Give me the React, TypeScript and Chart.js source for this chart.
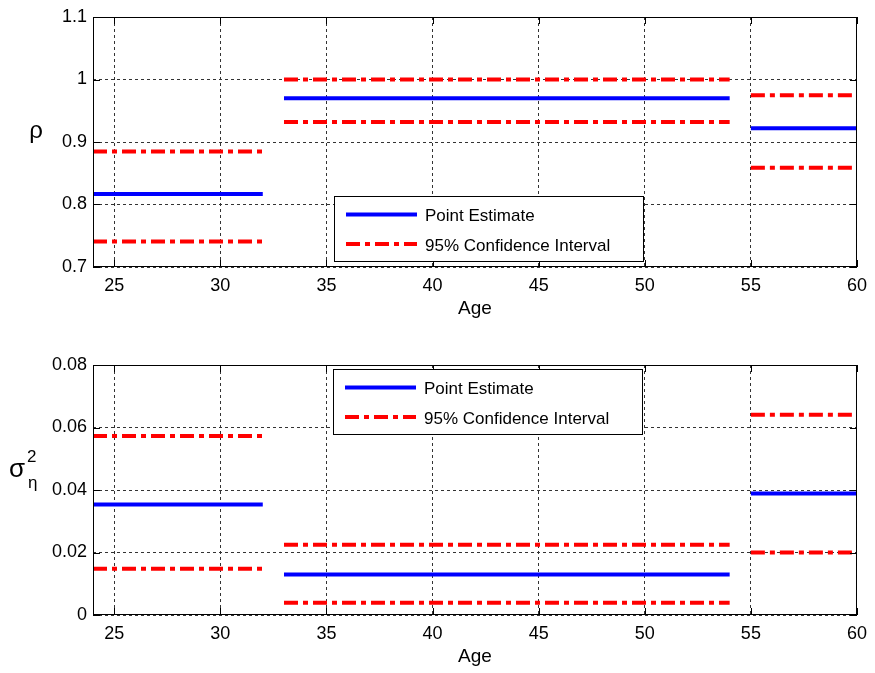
import React, { useEffect, useRef } from "react";
import { Chart, registerables } from "chart.js";

Chart.register(...registerables);

// ---- Data ----
const ageStart = [24, 33, 55];
const ageEnd = [32, 54, 60];

const rhoPoint = [0.817, 0.97, 0.922];
const rhoUpper = [0.885, 1.0, 0.975];
const rhoLower = [0.741, 0.932, 0.859];

const sigmaPoint = [0.0354, 0.013, 0.0389];
const sigmaUpper = [0.0573, 0.0225, 0.0641];
const sigmaLower = [0.0148, 0.0039, 0.02];

const xTicks = [25, 30, 35, 40, 45, 50, 55, 60];
const rhoTicks = [0.7, 0.8, 0.9, 1.0, 1.1];
const sigmaTicks = [0, 0.02, 0.04, 0.06, 0.08];

const legendLabels = ["Point Estimate", "95% Confidence Interval"];
const xTitle = "Age";

// ---- Styles ----
const FONT = "'Liberation Sans', Arial, Helvetica, sans-serif";
const BLUE = "#0000ff";
const RED = "#ff0000";
const DASH = [14, 5, 5, 5];
const W = 875;

function segmentDatasets(point: number[], upper: number[], lower: number[]) {
  const ds: any[] = [];
  for (let i = 0; i < ageStart.length; i++) {
    const seg = (v: number) => [
      { x: ageStart[i], y: v },
      { x: ageEnd[i], y: v },
    ];
    ds.push({
      label: legendLabels[1],
      data: seg(upper[i]),
      borderColor: RED,
      borderWidth: 4,
      borderDash: DASH,
      borderCapStyle: "butt",
      pointRadius: 0,
      fill: false,
    });
    ds.push({
      label: legendLabels[1],
      data: seg(lower[i]),
      borderColor: RED,
      borderWidth: 4,
      borderDash: DASH,
      borderCapStyle: "butt",
      pointRadius: 0,
      fill: false,
    });
    ds.push({
      label: legendLabels[0],
      data: seg(point[i]),
      borderColor: BLUE,
      borderWidth: 4,
      borderCapStyle: "butt",
      pointRadius: 0,
      fill: false,
    });
  }
  return ds;
}

type Cfg = {
  padTop: number;
  xHeight: number;
  yMin: number;
  yMax: number;
  yTicks: number[];
  fmt: (v: number) => string;
  legendPos: { dx: number; dy: number };
  drawYLabel: (ctx: CanvasRenderingContext2D) => void;
  point: number[];
  upper: number[];
  lower: number[];
};

function makeChart(canvas: HTMLCanvasElement, cfg: Cfg) {
  const decor = {
    id: "matlabDecor",
    afterDatasetsDraw(chart: any) {
      const ctx: CanvasRenderingContext2D = chart.ctx;
      const a = chart.chartArea;
      const xs = chart.scales.x;
      const ys = chart.scales.y;
      ctx.save();
      // frame
      ctx.strokeStyle = "#000";
      ctx.lineWidth = 1;
      ctx.setLineDash([]);
      ctx.strokeRect(a.left + 0.5, a.top + 0.5, a.right - a.left - 1, a.bottom - a.top - 1);
      // inward ticks
      const tl = 7;
      ctx.beginPath();
      xTicks.forEach((t) => {
        const px = Math.round(xs.getPixelForValue(t)) + 0.5;
        ctx.moveTo(px, a.bottom);
        ctx.lineTo(px, a.bottom - tl);
        ctx.moveTo(px, a.top);
        ctx.lineTo(px, a.top + tl);
      });
      cfg.yTicks.forEach((t) => {
        const py = Math.round(ys.getPixelForValue(t)) + 0.5;
        ctx.moveTo(a.left, py);
        ctx.lineTo(a.left + tl, py);
        ctx.moveTo(a.right, py);
        ctx.lineTo(a.right - tl, py);
      });
      ctx.stroke();

      // legend
      const bx = a.left + cfg.legendPos.dx;
      const by = a.top + cfg.legendPos.dy;
      const bw = 310;
      const bh = 66;
      ctx.fillStyle = "#fff";
      ctx.fillRect(bx, by, bw, bh);
      ctx.strokeStyle = "#000";
      ctx.lineWidth = 1;
      ctx.strokeRect(bx + 0.5, by + 0.5, bw - 1, bh - 1);
      ctx.lineCap = "butt";
      ctx.lineWidth = 4;
      ctx.strokeStyle = BLUE;
      ctx.beginPath();
      ctx.moveTo(bx + 12, by + 18.5);
      ctx.lineTo(bx + 83, by + 18.5);
      ctx.stroke();
      ctx.strokeStyle = RED;
      ctx.setLineDash(DASH);
      ctx.beginPath();
      ctx.moveTo(bx + 12, by + 48);
      ctx.lineTo(bx + 83, by + 48);
      ctx.stroke();
      ctx.setLineDash([]);
      ctx.fillStyle = "#000";
      ctx.font = `17px ${FONT}`;
      ctx.textAlign = "left";
      ctx.textBaseline = "alphabetic";
      ctx.fillText(legendLabels[0], bx + 91, by + 25);
      ctx.fillText(legendLabels[1], bx + 91, by + 55);

      // x title
      ctx.font = `19px ${FONT}`;
      ctx.textAlign = "center";
      ctx.fillText(xTitle, (a.left + a.right) / 2, a.bottom + 47);

      // y label
      cfg.drawYLabel(ctx);
      ctx.restore();
    },
  };

  return new Chart(canvas, {
    type: "line",
    data: { datasets: segmentDatasets(cfg.point, cfg.upper, cfg.lower) },
    options: {
      responsive: false,
      animation: false,
      devicePixelRatio: 1,
      layout: { padding: { left: 0, right: 14, top: cfg.padTop, bottom: 0 } },
      plugins: { legend: { display: false }, tooltip: { enabled: false }, title: { display: false } },
      scales: {
        x: {
          type: "linear",
          min: 24,
          max: 60,
          afterBuildTicks: (s: any) => {
            s.ticks = xTicks.map((v) => ({ value: v }));
          },
          afterFit: (s: any) => {
            s.height = cfg.xHeight;
          },
          ticks: {
            color: "#000",
            font: { family: FONT, size: 18 },
            padding: 8,
            maxRotation: 0,
            autoSkip: false,
            callback: (v: any) => String(v),
          },
          grid: { color: "#333", lineWidth: 1, drawTicks: false },
          border: { display: false, dash: [3, 3] },
        },
        y: {
          type: "linear",
          min: cfg.yMin,
          max: cfg.yMax,
          afterBuildTicks: (s: any) => {
            s.ticks = cfg.yTicks.map((v) => ({ value: v }));
          },
          afterFit: (s: any) => {
            s.width = 93;
          },
          ticks: {
            color: "#000",
            font: { family: FONT, size: 18 },
            padding: 6,
            autoSkip: false,
            callback: (v: any) => cfg.fmt(Number(v)),
          },
          grid: { color: "#333", lineWidth: 1, drawTicks: false },
          border: { display: false, dash: [3, 3] },
        },
      },
    } as any,
    plugins: [decor],
  });
}

function fmtTrim(v: number) {
  return String(parseFloat(v.toFixed(4)));
}

export default function App() {
  const topRef = useRef<HTMLCanvasElement>(null);
  const botRef = useRef<HTMLCanvasElement>(null);

  useEffect(() => {
    const c1 = makeChart(topRef.current!, {
      padTop: 17,
      xHeight: 69,
      yMin: 0.7,
      yMax: 1.1,
      yTicks: rhoTicks,
      fmt: fmtTrim,
      legendPos: { dx: 241, dy: 179 },
      point: rhoPoint,
      upper: rhoUpper,
      lower: rhoLower,
      drawYLabel: (ctx) => {
        ctx.font = `24px ${FONT}`;
        ctx.textAlign = "center";
        ctx.textBaseline = "alphabetic";
        ctx.fillStyle = "#000";
        ctx.fillText("ρ", 36, 138);
      },
    });
    const c2 = makeChart(botRef.current!, {
      padTop: 29,
      xHeight: 58,
      yMin: 0,
      yMax: 0.08,
      yTicks: sigmaTicks,
      fmt: fmtTrim,
      legendPos: { dx: 240, dy: 4 },
      point: sigmaPoint,
      upper: sigmaUpper,
      lower: sigmaLower,
      drawYLabel: (ctx) => {
        ctx.fillStyle = "#000";
        ctx.textBaseline = "alphabetic";
        ctx.textAlign = "left";
        ctx.font = `26px ${FONT}`;
        ctx.fillText("σ", 9, 141);
        ctx.font = `17px ${FONT}`;
        ctx.fillText("2", 27, 126);
        ctx.fillText("η", 28, 152);
      },
    });
    return () => {
      c1.destroy();
      c2.destroy();
    };
  }, []);

  return (
    <div style={{ position: "absolute", left: 0, top: 0, width: W, height: 673, background: "#fff" }}>
      <canvas
        ref={topRef}
        width={W}
        height={336}
        style={{ position: "absolute", left: 0, top: 0, width: W, height: 336, display: "block" }}
      />
      <canvas
        ref={botRef}
        width={W}
        height={337}
        style={{ position: "absolute", left: 0, top: 336, width: W, height: 337, display: "block" }}
      />
    </div>
  );
}
